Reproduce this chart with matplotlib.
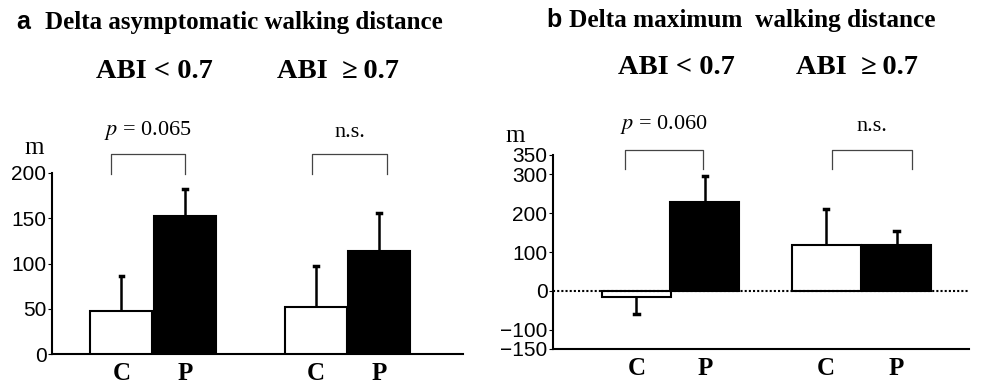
import matplotlib.pyplot as plt

# panel a: delta asymptomatic walking distance (m)
a_means = [47, 153, 52, 114]
a_err = [39, 29, 45, 42]
# panel b: delta maximum walking distance (m)
b_means = [-16, 230, 117, 117]
b_err = [-44, 65, 95, 38]

bar_labels = ["C", "P", "C", "P"]
groups = ["ABI < 0.7", "ABI  \u2265\u20090.7"]
a_pvals = ["$\\mathit{p}$ = 0.065", "n.s."]
b_pvals = ["$\\mathit{p}$ = 0.060", "n.s."]

serif = "Liberation Serif"
sans = "Liberation Sans"

W, H = 986, 388
fig = plt.figure(figsize=(W / 100, H / 100), dpi=100)


def fx(px):
    return px / W


def fy(py):
    return 1 - py / H


def draw_panel(ax, x, means, err, br_x, bracket_y, leg_y, pvals, ptext_y):
    colors = ["white", "black", "white", "black"]
    for xi, m, e, c in zip(x, means, err, colors):
        ax.bar(xi, m, width=1.0, color=c, edgecolor="black", linewidth=1.5, zorder=3)
        ax.plot([xi, xi], [m, m + e], color="black", lw=1.8, zorder=2)
        ax.plot([xi - 0.03, xi + 0.03], [m + e, m + e], color="black", lw=2.5, zorder=2)
    for i in range(2):
        x0, x1 = br_x[i]
        ax.plot([x0, x0, x1, x1], [leg_y, bracket_y, bracket_y, leg_y],
                color="#444444", lw=0.9, clip_on=False)
        ax.text((x0 + x1) / 2, ptext_y, pvals[i], ha="center", va="bottom",
                fontsize=16, family=serif, math_fontfamily="stix")
    ax.set_xticks(x)
    ax.set_xticklabels(bar_labels, family=serif, fontweight="bold", fontsize=18)
    ax.tick_params(axis="x", length=0, pad=6)
    ax.tick_params(axis="y", direction="out", length=3, labelsize=15, pad=1)
    for lab in ax.get_yticklabels():
        lab.set_family(sans)
    ax.spines["top"].set_visible(False)
    ax.spines["right"].set_visible(False)
    ax.spines["left"].set_linewidth(1.5)
    ax.spines["bottom"].set_linewidth(1.5)


# panel a
ax1 = fig.add_axes([fx(52), fy(354), fx(411), (354 - 173) / H])
xa = [1.12, 2.15, 4.26, 5.28]
ax1.set_xlim(0, 6.63)
ax1.set_ylim(0, 200)
ax1.set_yticks([0, 50, 100, 150, 200])
draw_panel(ax1, xa, a_means, a_err, [(0.95, 2.15), (4.2, 5.4)],
           221, 199, a_pvals, 234)
ax1.text(-0.29, 228, "m", fontsize=18, family=serif, ha="center", va="center")

# panel b
ax2 = fig.add_axes([fx(553), fy(349), fx(416), (349 - 155) / H])
xb = [1.21, 2.2, 3.96, 4.98]
ax2.set_xlim(0, 6.03)
ax2.set_ylim(-150, 350)
ax2.set_yticks([-150, -100, 0, 100, 200, 300, 350])
ax2.axhline(0, color="black", lw=1.5, ls=(0, (1, 1)), zorder=4)
draw_panel(ax2, xb, b_means, b_err, [(1.04, 2.17), (4.05, 5.2)],
           364, 315, b_pvals, 400)
ax2.text(-0.55, 398, "m", fontsize=18, family=serif, ha="center", va="center")

# titles
fig.text(fx(16), fy(22), "a", fontsize=18, family=sans, fontweight="bold", va="center")
fig.text(fx(45), fy(22), "Delta asymptomatic walking distance", fontsize=18,
         family=serif, fontweight="bold", va="center")
fig.text(fx(546), fy(20), "b", fontsize=18, family=sans, fontweight="bold", va="center")
fig.text(fx(569), fy(20), "Delta maximum  walking distance", fontsize=18.2,
         family=serif, fontweight="bold", va="center")

for cx, txt in zip([154, 338], groups):
    fig.text(fx(cx), fy(72), txt, fontsize=20.5, family=serif, fontweight="bold",
             ha="center", va="center")
for cx, txt in zip([676, 857], groups):
    fig.text(fx(cx), fy(67), txt, fontsize=20.5, family=serif, fontweight="bold",
             ha="center", va="center")

fig.savefig("out.png", dpi=100)
